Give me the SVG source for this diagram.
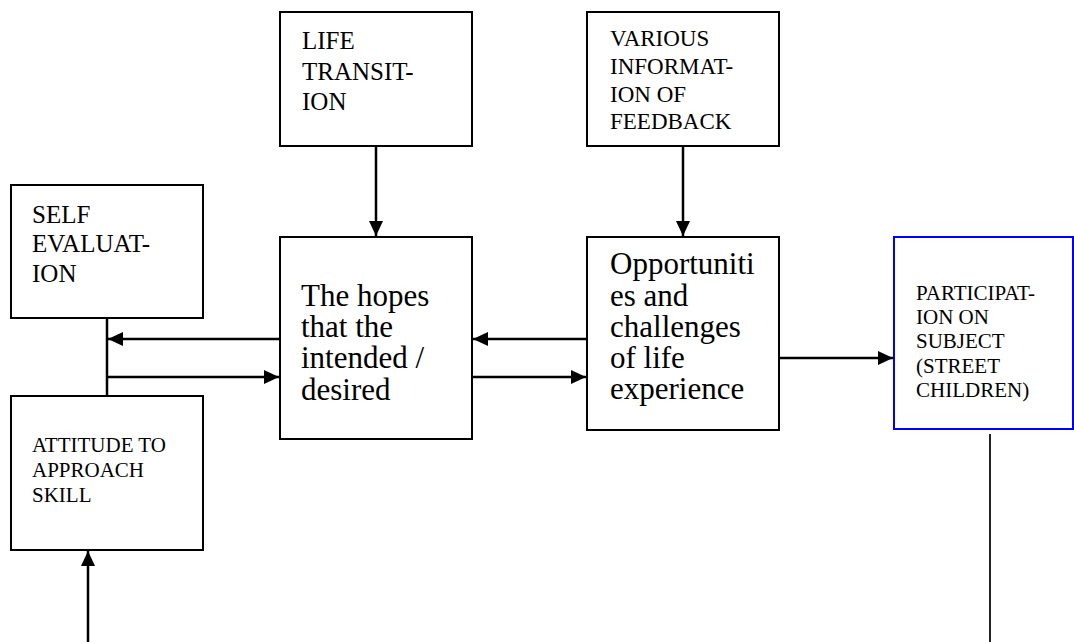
<svg xmlns="http://www.w3.org/2000/svg" width="1074" height="642" viewBox="0 0 1074 642">
<style>
  .box { fill: #fff; stroke: #000; stroke-width: 2; }
  .blue { fill: #fff; stroke: #0000ff; stroke-width: 2; }
  .t { font-family: "Liberation Serif", "Times New Roman", serif; fill: #000; }
  .s { font-size: 21px; }
  .m { font-size: 25px; }
  .v { font-size: 23px; }
  .l { font-size: 31px; }
  .c { stroke: #000; stroke-width: 2.5; fill: none; }
</style>
<defs>
  <marker id="ah" viewBox="0 0 15 14" refX="15" refY="7" markerWidth="15" markerHeight="14" markerUnits="userSpaceOnUse" orient="auto">
    <path d="M0,0 L15,7 L0,14 Z" fill="#000"/>
  </marker>
</defs>
<rect width="1074" height="642" fill="#fff"/>

<g id="connectors">
  <line class="c" x1="107" y1="318" x2="107" y2="396"/>
  <line class="c" x1="280" y1="339" x2="108" y2="339" marker-end="url(#ah)"/>
  <line class="c" x1="107" y1="377" x2="279" y2="377" marker-end="url(#ah)"/>
  <line class="c" x1="376" y1="146" x2="376" y2="236" marker-end="url(#ah)"/>
  <line class="c" x1="683" y1="146" x2="683" y2="236" marker-end="url(#ah)"/>
  <line class="c" x1="587" y1="339" x2="473" y2="339" marker-end="url(#ah)"/>
  <line class="c" x1="472" y1="377" x2="586" y2="377" marker-end="url(#ah)"/>
  <line class="c" x1="779" y1="358" x2="893" y2="358" marker-end="url(#ah)"/>
  <line x1="990" y1="434" x2="990" y2="642" stroke="#222" stroke-width="2"/>
  <line class="c" x1="88" y1="642" x2="88" y2="551" marker-end="url(#ah)"/>
</g>

<g id="self-evaluation">
  <rect class="box" x="11" y="185" width="192" height="133"/>
  <text class="t m"><tspan x="32" y="223">SELF</tspan><tspan x="32" y="252">EVALUAT-</tspan><tspan x="32" y="282">ION</tspan></text>
</g>

<g id="attitude">
  <rect class="box" x="11" y="396" width="192" height="154"/>
  <text class="t s"><tspan x="32" y="452">ATTITUDE TO</tspan><tspan x="32" y="477">APPROACH</tspan><tspan x="32" y="502">SKILL</tspan></text>
</g>

<g id="life-transition">
  <rect class="box" x="280" y="12" width="192" height="134"/>
  <text class="t m"><tspan x="302" y="49">LIFE</tspan><tspan x="302" y="80">TRANSIT-</tspan><tspan x="302" y="110">ION</tspan></text>
</g>

<g id="various-information">
  <rect class="box" x="587" y="12" width="192" height="134"/>
  <text class="t v"><tspan x="610" y="46">VARIOUS</tspan><tspan x="610" y="74">INFORMAT-</tspan><tspan x="610" y="102">ION OF</tspan><tspan x="610" y="129">FEEDBACK</tspan></text>
</g>

<g id="hopes">
  <rect class="box" x="280" y="237" width="192" height="202"/>
  <text class="t l"><tspan x="301" y="306">The hopes</tspan><tspan x="301" y="337">that the</tspan><tspan x="301" y="368">intended /</tspan><tspan x="301" y="400">desired</tspan></text>
</g>

<g id="opportunities">
  <rect class="box" x="587" y="237" width="192" height="193"/>
  <text class="t l"><tspan x="610" y="274">Opportuniti</tspan><tspan x="610" y="306">es and</tspan><tspan x="610" y="337">challenges</tspan><tspan x="610" y="368">of life</tspan><tspan x="610" y="399">experience</tspan></text>
</g>

<g id="participation">
  <rect class="blue" x="894" y="237" width="179" height="192"/>
  <text class="t s"><tspan x="916" y="300">PARTICIPAT-</tspan><tspan x="916" y="324">ION ON</tspan><tspan x="916" y="348">SUBJECT</tspan><tspan x="916" y="373">(STREET</tspan><tspan x="916" y="397">CHILDREN)</tspan></text>
</g>
</svg>
